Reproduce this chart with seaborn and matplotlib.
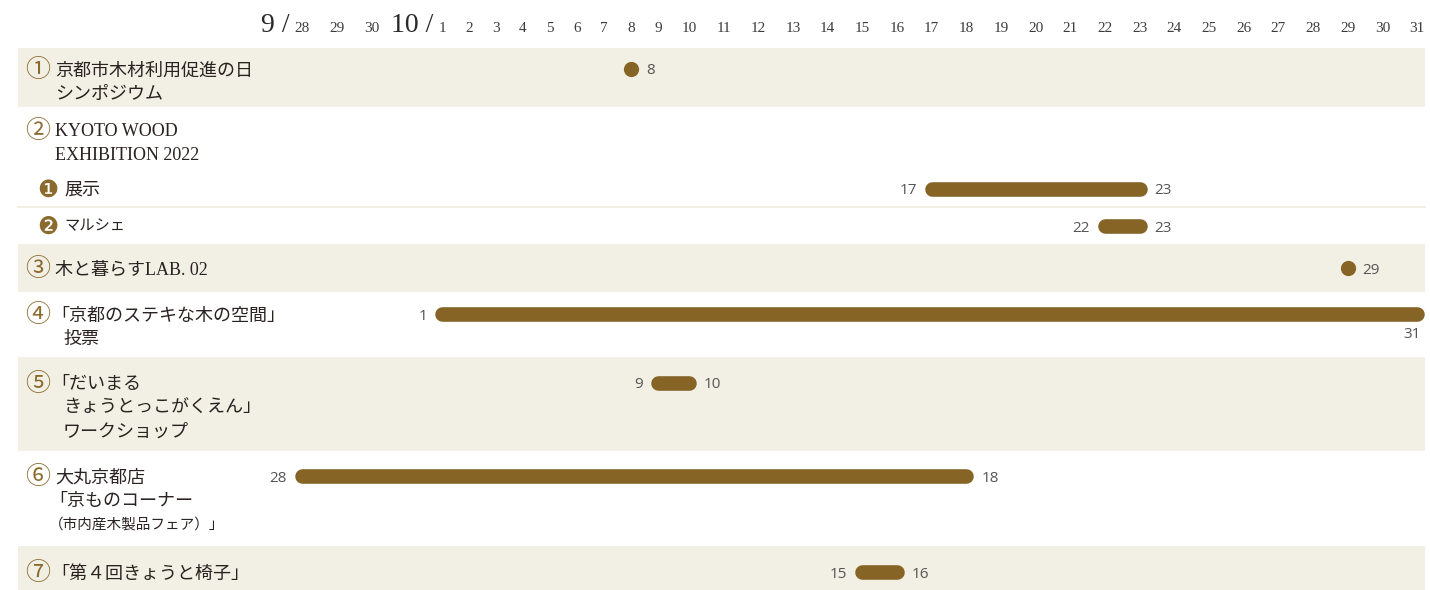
import matplotlib
matplotlib.use("Agg")
import matplotlib.pyplot as plt
import matplotlib.transforms as mtransforms
import numpy as np
import pandas as pd
import seaborn as sns


### Data ###

day_labels = ["28", "29", "30"] + [str(d) for d in range(1, 32)]
month_labels = ["9 /", "10 /"]

event_names = ["シンポジウム", "展示", "マルシェ", "LAB.02", "投票", "ワークショップ", "大丸京都店", "椅子"]
event_start = ["10-08", "10-17", "10-22", "10-29", "10-01", "10-09", "09-28", "10-15"]
event_end = ["10-08", "10-23", "10-23", "10-29", "10-31", "10-10", "10-18", "10-16"]

row_marks = ["①", "②", "③", "④", "⑤", "⑥", "⑦"]
row_labels = [
    ["京都市木材利用促進の日", "シンポジウム"],
    ["KYOTO WOOD", "EXHIBITION 2022"],
    ["木と暮らすLAB. 02"],
    ["「京都のステキな木の空間」", "投票"],
    ["「だいまる", "きょうとっこがくえん」", "ワークショップ"],
    ["大丸京都店", "「京ものコーナー", "（市内産木製品フェア）」"],
    ["「第４回きょうと椅子」"],
]
sub_marks = ["❶", "❷"]
sub_labels = ["展示", "マルシェ"]


### Layout (pixels) ###

W, H = 1430, 590
BAR = "#856426"
BEIGE = "#f2efe4"
INK = "#2a2220"
NUM = "#555555"
MARK = "#8a6a2d"

row_bands = [(48, 107), (107, 244), (244, 292), (292, 357), (357, 451), (451, 546), (546, 590)]
row_text_y = [71, 132, 270, 316, 385, 478, 574]
sub_text_y = [190, 227]
event_y = [69, 189, 226, 268, 314, 383, 476, 572]
line_step = 23.5

# piecewise axis: day index -> pixel (the header in the source is not evenly spaced)
idx_knots = np.array([-20, 0, 2, 3, 11, 12, 33, 50], dtype=float)
px_knots = np.array([302 - 700, 302, 372, 442, 658, 689, 1417, 1417 + 17 * 34.67])


def fwd(x):
    return np.interp(x, idx_knots, px_knots)


def inv(p):
    return np.interp(p, px_knots, idx_knots)


base = pd.Timestamp("2022-09-28")


def to_idx(s):
    return (pd.Timestamp("2022-" + s) - base).days


events = pd.DataFrame({
    "event": event_names,
    "start": [to_idx(s) for s in event_start],
    "end": [to_idx(s) for s in event_end],
    "y": event_y,
})

bars = events[events["start"] != events["end"]]
dots = events[events["start"] == events["end"]]
bar_points = pd.concat([
    bars[["event", "start", "y"]].rename(columns={"start": "day"}),
    bars[["event", "end", "y"]].rename(columns={"end": "day"}),
])

### Plot ###

sns.set_style("white")
plt.rcParams["font.family"] = ["Noto Sans CJK JP", "DejaVu Sans"]

fig = plt.figure(figsize=(W / 100, H / 100), dpi=100)
ax = fig.add_axes([0, 0, 1, 1])
ax.set_xscale("function", functions=(fwd, inv))

for i, (top, bottom) in enumerate(row_bands):
    if i % 2 == 0:
        ax.axhspan(top, bottom, xmin=18 / W, xmax=1425 / W, color=BEIGE, lw=0, zorder=0)
ax.axhline(207, xmin=18 / W, xmax=1425 / W, color=BEIGE, lw=1.5, zorder=0)

sns.lineplot(
    data=bar_points, x="day", y="y", units="event", estimator=None,
    color=BAR, linewidth=10.5, solid_capstyle="round", sort=False, legend=False, ax=ax,
)
sns.scatterplot(data=dots, x="start", y="y", color=BAR, s=120, linewidth=0, legend=False, ax=ax)

num_kw = dict(textcoords="offset pixels", va="center_baseline", fontsize=11, color=NUM, family="Open Sans")
for _, ev in events.iterrows():
    if ev["start"] != ev["end"]:
        ax.annotate(day_labels[ev["start"]], (ev["start"], ev["y"]), xytext=(-15, 0), ha="right", **num_kw)
    if ev["end"] == len(day_labels) - 1 and ev["start"] != ev["end"]:
        # bar runs to the last day: end label sits below the bar
        ax.annotate(day_labels[ev["end"]], (ev["end"], ev["y"]), xytext=(-5, -19), ha="center", **num_kw)
    else:
        ax.annotate(day_labels[ev["end"]], (ev["end"], ev["y"]), xytext=(15, 0), ha="left", **num_kw)

# header
serif = ["Liberation Serif", "DejaVu Serif"]
for i, lab in enumerate(day_labels):
    ax.text(i, 32.5, lab, ha="center", va="baseline", fontsize=11, color="#3c3c3c", family=serif)
ax.annotate(month_labels[0], (0, 32.5), xytext=(-12, 0), textcoords="offset pixels",
            ha="right", va="baseline", fontsize=20, color="#2a2a2a", family=serif)
ax.annotate(month_labels[1], (3, 32.5), xytext=(-9, 0), textcoords="offset pixels",
            ha="right", va="baseline", fontsize=20, color="#2a2a2a", family=serif)

# left labels
px = mtransforms.blended_transform_factory(fig.transFigure, ax.transData)
lab_font = ["Liberation Serif", "Noto Sans CJK JP", "DejaVu Sans"]
for mark, lines, y0 in zip(row_marks, row_labels, row_text_y):
    ax.text(38 / W, y0 - 1, mark, transform=px, ha="center", va="center", fontsize=18,
            color=MARK, family=["Noto Sans CJK JP", "DejaVu Sans"])
    for j, line in enumerate(lines):
        if line.startswith("「") and j == 0:
            x = 51
        elif line.startswith("「") or line.startswith("（"):
            x = 49
        elif j > 0 and lines[0].startswith("「"):
            x = 63
        else:
            x = 55
        size = 10.5 if line.startswith("（") else 13
        ax.text(x / W, y0 + j * line_step, line, transform=px, ha="left", va="center",
                fontsize=size, color=INK, family=lab_font)

for mark, lab, y0 in zip(sub_marks, sub_labels, sub_text_y):
    ax.text(48 / W, y0, mark, transform=px, ha="center", va="center", fontsize=17,
            color=MARK, family=["DejaVu Sans"])
    ax.text(64 / W, y0, lab, transform=px, ha="left", va="center",
            fontsize=13 if lab == "展示" else 11, color=INK, family=lab_font)

ax.set_xlim(inv(0), inv(W))
ax.set_ylim(H, 0)
ax.axis("off")

fig.savefig("out.png", dpi=100)
